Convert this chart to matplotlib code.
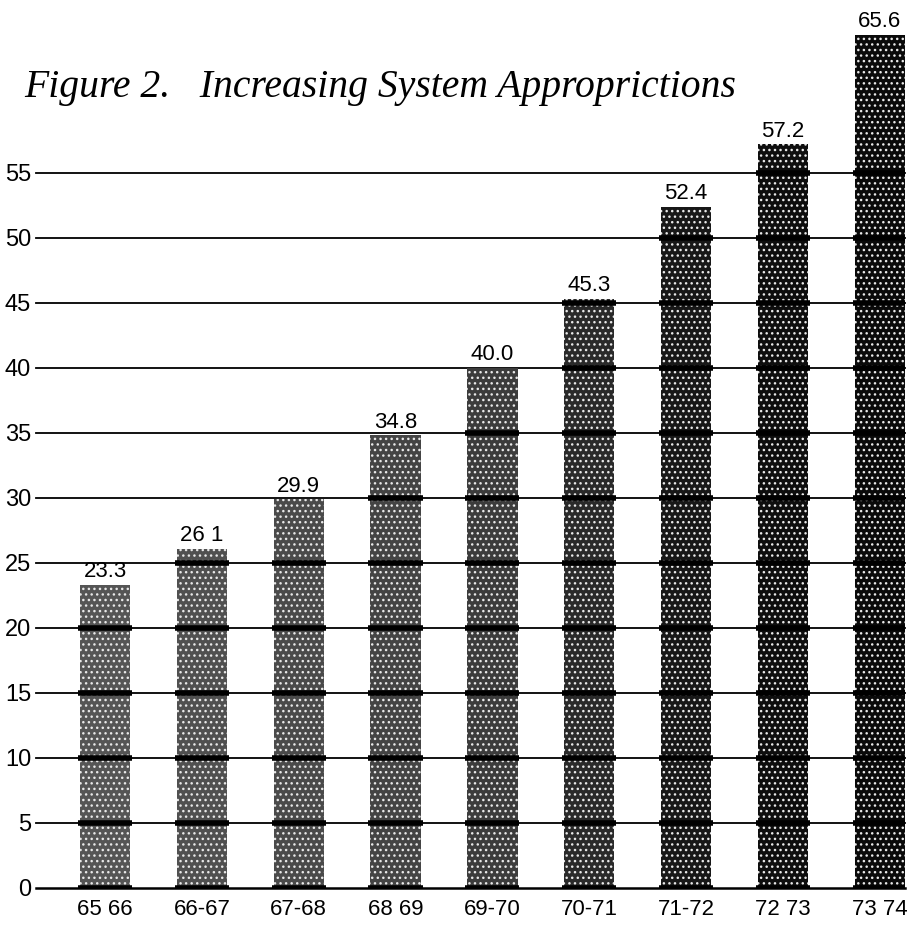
import matplotlib.pyplot as plt

# data
years = ["65 66", "66-67", "67-68", "68 69", "69-70", "70-71", "71-72", "72 73", "73 74"]
values = [23.3, 26.1, 29.9, 34.8, 40.0, 45.3, 52.4, 57.2, 65.6]
labels = ["23.3", "26 1", "29.9", "34.8", "40.0", "45.3", "52.4", "57.2", "65.6"]
shades = ["#555555", "#505050", "#4a4a4a", "#444444", "#3c3c3c", "#2a2a2a", "#181818", "#0e0e0e", "#0a0a0a"]
yticks = list(range(0, 60, 5))

plt.rcParams['font.family'] = ['Liberation Sans', 'DejaVu Sans']
plt.rcParams['hatch.linewidth'] = 1.0

fig = plt.figure(figsize=(9.09, 9.25), dpi=100)
ax = fig.add_axes([0.0495, 0.04, 0.946, 0.956])
x = list(range(len(years)))

# grid lines behind and in front of the bars
for t in yticks:
    ax.axhline(t, xmin=-0.01, xmax=1, color='black', lw=1.3 if t else 1.8, zorder=1, clip_on=False)

bars = ax.bar(x, values, width=0.52, color=shades, edgecolor='#e8e8e8', hatch='...', linewidth=0, zorder=2)

# heavy bands where grid lines cross the bars
for xi, v in zip(x, values):
    for t in yticks:
        if t < v:
            ax.hlines(t, xi - 0.28, xi + 0.28, color='black', lw=4, zorder=3)

for xi, v, lab in zip(x, values, labels):
    ax.text(xi, v + 0.2, lab, ha='center', va='bottom', fontsize=16, zorder=4)

ax.set_xlim(-0.62, 8.26)
ax.set_ylim(0, 68)
ax.set_yticks(yticks)
ax.set_yticklabels([str(t) for t in yticks], fontsize=17)
ax.set_xticks(x)
ax.set_xticklabels(years, fontsize=16)
ax.tick_params(axis='y', length=0, pad=10)
ax.tick_params(axis='x', length=0, pad=8)
for s in ax.spines.values():
    s.set_visible(False)

fig.text(0.027, 0.905, "Figure 2.   Increasing System Approprictions", family=['Liberation Serif', 'DejaVu Serif'],
         style='italic', fontsize=28.5, ha='left', va='center')

plt.savefig("out.png", dpi=100)
